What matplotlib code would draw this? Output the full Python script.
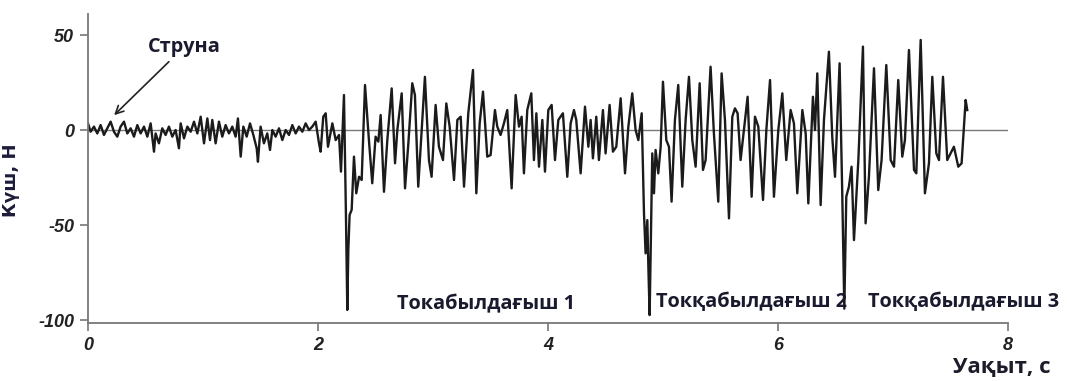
import numpy as np
import matplotlib.pyplot as plt

plt.rcParams["axes.unicode_minus"] = False

# Күш сигналы (Н), уақыт (с) -- суреттен оқылған мәндер
t_string = [0.00, 0.023, 0.052, 0.081, 0.110, 0.139, 0.168, 0.197, 0.226, 0.255,
            0.284, 0.313, 0.342, 0.371, 0.400, 0.429, 0.458, 0.487, 0.516, 0.545,
            0.574, 0.588, 0.617, 0.646, 0.675, 0.704, 0.733, 0.762, 0.791, 0.806,
            0.835, 0.864, 0.893, 0.922, 0.951, 0.980, 1.009, 1.038, 1.061, 1.081,
            1.110, 1.139, 1.168, 1.197, 1.226, 1.255, 1.284, 1.304, 1.328, 1.351,
            1.380, 1.409, 1.438, 1.467, 1.478, 1.501, 1.530, 1.559, 1.583, 1.603,
            1.632, 1.661, 1.690, 1.719, 1.748, 1.777, 1.806, 1.835, 1.864, 1.893,
            1.922, 1.951, 1.980, 2.009, 2.023, 2.046, 2.067, 2.087]
f_string = [3.5, -0.9, 1.8, -1.8, 2.6, -2.6, 0.9, 4.4, -0.9, -3.5,
            1.8, 4.4, -1.8, 0.9, -3.5, 2.6, -1.8, 1.8, -3.5, 3.5,
            -11.4, -1.8, -7.0, 0.9, -2.6, 1.8, -3.5, 0.0, -9.6, 3.5,
            -4.4, 1.8, -0.9, 4.4, -1.8, 7.0, -7.0, 6.1, -5.3, 5.3,
            -7.0, 4.4, -3.5, 2.6, -1.8, 1.8, -3.5, 6.1, -14.0, 1.8,
            -3.5, 3.5, -2.6, -9.6, -16.7, 1.8, -7.0, -1.8, -10.5, 0.0,
            -3.5, 0.9, -5.3, 0.0, -2.6, 2.6, -1.8, 1.8, -0.9, 3.5,
            0.0, 1.8, 4.4, -7.0, -11.4, 7.0, 8.8, -8.8]

t_pass1 = [2.125, 2.154, 2.183, 2.200, 2.226, 2.243, 2.255, 2.264, 2.275, 2.293,
           2.313, 2.333, 2.357, 2.380, 2.409, 2.443, 2.472, 2.501, 2.525, 2.545,
           2.574, 2.603, 2.641, 2.670, 2.690, 2.728, 2.757, 2.786, 2.820, 2.843,
           2.872, 2.930, 2.965, 2.988, 3.023, 3.052, 3.087, 3.116, 3.145, 3.183,
           3.212, 3.241, 3.270, 3.307, 3.348, 3.377, 3.406, 3.435, 3.472, 3.501,
           3.539]
f_pass1 = [3.5, -5.3, -2.6, -21.9, 18.4, -43.9, -94.7, -63.0, -44.7, -42.0,
           -14.0, -33.3, -24.6, -26.3, 23.7, -5.3, -28.0, -3.5, -6.1, 7.9,
           -32.5, -5.3, 21.9, -17.5, 0.0, 19.3, -30.7, -7.0, 24.6, 18.4,
           -29.8, 28.0, -15.8, -24.6, 13.2, -8.8, -15.8, 14.0, 1.8, -26.3,
           5.3, 7.0, -29.8, 8.8, 31.6, -33.3, 3.5, 20.2, -14.0, -13.2,
           10.5]

t_pass2 = [3.559, 3.588, 3.617, 3.646, 3.684, 3.719, 3.748, 3.771, 3.791, 3.820,
           3.855, 3.878, 3.899, 3.922, 3.951, 3.974, 4.003, 4.032, 4.061, 4.090,
           4.130, 4.168, 4.197, 4.226, 4.246, 4.284, 4.322, 4.351, 4.371, 4.391,
           4.420, 4.443, 4.478, 4.501, 4.536, 4.565, 4.594, 4.632, 4.670, 4.699,
           4.733, 4.762, 4.786, 4.815, 4.835, 4.849, 4.864, 4.873, 4.884, 4.899]
f_pass2 = [1.8, -2.6, 3.5, 10.5, -30.7, 18.4, 1.8, 7.0, -22.8, 10.5,
           19.3, -15.8, 8.8, -19.3, 5.3, -21.9, 10.5, 13.2, -15.8, 5.3,
           8.8, -24.6, 3.5, 10.5, 5.3, -22.8, 12.3, -8.8, 5.3, -14.9,
           7.0, -15.8, 10.5, -12.3, 13.2, -11.4, -8.8, 16.7, -22.8, 1.8,
           19.3, 0.0, -5.3, 8.8, -43.9, -64.9, -47.4, -71.9, -97.4, -40.4]

t_pass3 = [4.907, 4.922, 4.936, 4.959, 4.980, 5.000, 5.029, 5.052, 5.075, 5.104,
           5.133, 5.168, 5.197, 5.226, 5.255, 5.284, 5.319, 5.348, 5.371, 5.414,
           5.443, 5.481, 5.510, 5.539, 5.574, 5.603, 5.626, 5.649, 5.675, 5.704,
           5.736, 5.771, 5.800, 5.829, 5.870, 5.899, 5.931, 5.965, 6.003, 6.038,
           6.072, 6.110, 6.139, 6.168, 6.212, 6.241]
f_pass3 = [-12.3, -33.3, -10.5, -22.8, -8.8, 25.4, -5.3, -8.8, -37.7, 5.3,
           23.7, -29.8, 5.3, 28.0, -5.3, -19.3, 24.6, -21.0, -15.8, 33.3,
           -1.8, -37.7, 29.8, 5.3, -46.5, 7.0, 11.4, 8.8, -15.8, 0.0,
           17.5, -35.1, 7.0, 1.8, -36.8, 0.0, 26.3, -35.1, 0.0, 19.3,
           -15.8, 10.5, 3.5, -33.3, 10.5, -1.8]

t_pass4 = [6.264, 6.304, 6.322, 6.342, 6.371, 6.400, 6.443, 6.472, 6.496, 6.536,
           6.559, 6.577, 6.594, 6.617, 6.640, 6.661, 6.699, 6.739, 6.762, 6.791,
           6.835, 6.872, 6.901, 6.942, 6.980, 7.009, 7.046, 7.081, 7.104, 7.139,
           7.183, 7.203, 7.241, 7.278, 7.313, 7.342, 7.377, 7.400, 7.435, 7.472,
           7.501, 7.530, 7.568, 7.597, 7.632, 7.646]
f_pass4 = [-38.6, 17.5, 0.0, 29.8, -39.5, 5.3, 41.2, -3.5, -24.6, 35.1,
           -33.3, -94.0, -35.1, -29.8, -19.3, -57.9, -15.8, 43.9, -49.1, -24.6,
           32.5, -31.6, -15.8, 34.2, -15.8, -19.3, 26.3, -14.0, -5.3, 42.1,
           -21.0, -22.8, 47.4, -33.3, -17.5, 28.0, -12.3, -15.8, 28.0, -15.8,
           -12.3, -8.8, -19.3, -17.5, 15.8, 10.5]

time_s = np.concatenate([t_string, t_pass1, t_pass2, t_pass3, t_pass4])
force_n = np.concatenate([f_string, f_pass1, f_pass2, f_pass3, f_pass4])

x_ticks = [0, 2, 4, 6, 8]
y_ticks = [50, 0, -50, -100]

fig = plt.figure(figsize=(10.69, 3.81), dpi=100)
ax = fig.add_axes([0.0823, 0.152, 0.8606, 0.811])

ax.axhline(0, color="#7a7a7a", linewidth=1.0, zorder=1)
ax.plot(time_s, force_n, color="#1b1b1b", linewidth=1.7, zorder=2)

ax.set_xlim(0, 8)
ax.set_ylim(-101.6, 61)
ax.set_xticks(x_ticks)
ax.set_yticks(y_ticks)

for side in ["top", "right"]:
    ax.spines[side].set_visible(False)
for side in ["left", "bottom"]:
    ax.spines[side].set_color("#777777")
    ax.spines[side].set_linewidth(1.3)

ax.tick_params(axis="both", direction="out", length=6, width=1.2, color="#777777", pad=4)
for lbl in ax.get_xticklabels() + ax.get_yticklabels():
    lbl.set_fontfamily("Liberation Sans")
    lbl.set_fontweight("bold")
    lbl.set_fontstyle("italic")
    lbl.set_fontsize(13)
    lbl.set_color("#222222")

ax.set_ylabel("Күш, Н", fontfamily="DejaVu Sans", fontweight="bold",
              fontsize=13, color="#1c1c3a")
ax.yaxis.set_label_coords(-0.074, 0.463)
fig.text(0.937, 0.036, "Уақыт, с", fontfamily="Open Sans", fontweight="bold",
         fontsize=16, color="#1c1c2a", ha="center", va="center")

note_style = dict(fontfamily="Open Sans", fontweight="bold", fontsize=14.3, color="#1a1a2e")
ax.annotate("Струна", xy=(0.21, 6.8), xytext=(0.835, 43.7), ha="center", va="center",
            arrowprops=dict(arrowstyle="->", color="#222222", lw=1.2), **note_style)
ax.text(3.46, -91.6, "Токабылдағыш 1", ha="center", va="center", **note_style)
ax.text(5.77, -90.5, "Токқабылдағыш 2", ha="center", va="center", **note_style)
ax.text(7.61, -90.5, "Токқабылдағыш 3", ha="center", va="center", clip_on=False, **note_style)

plt.savefig("out.png", dpi=100)
